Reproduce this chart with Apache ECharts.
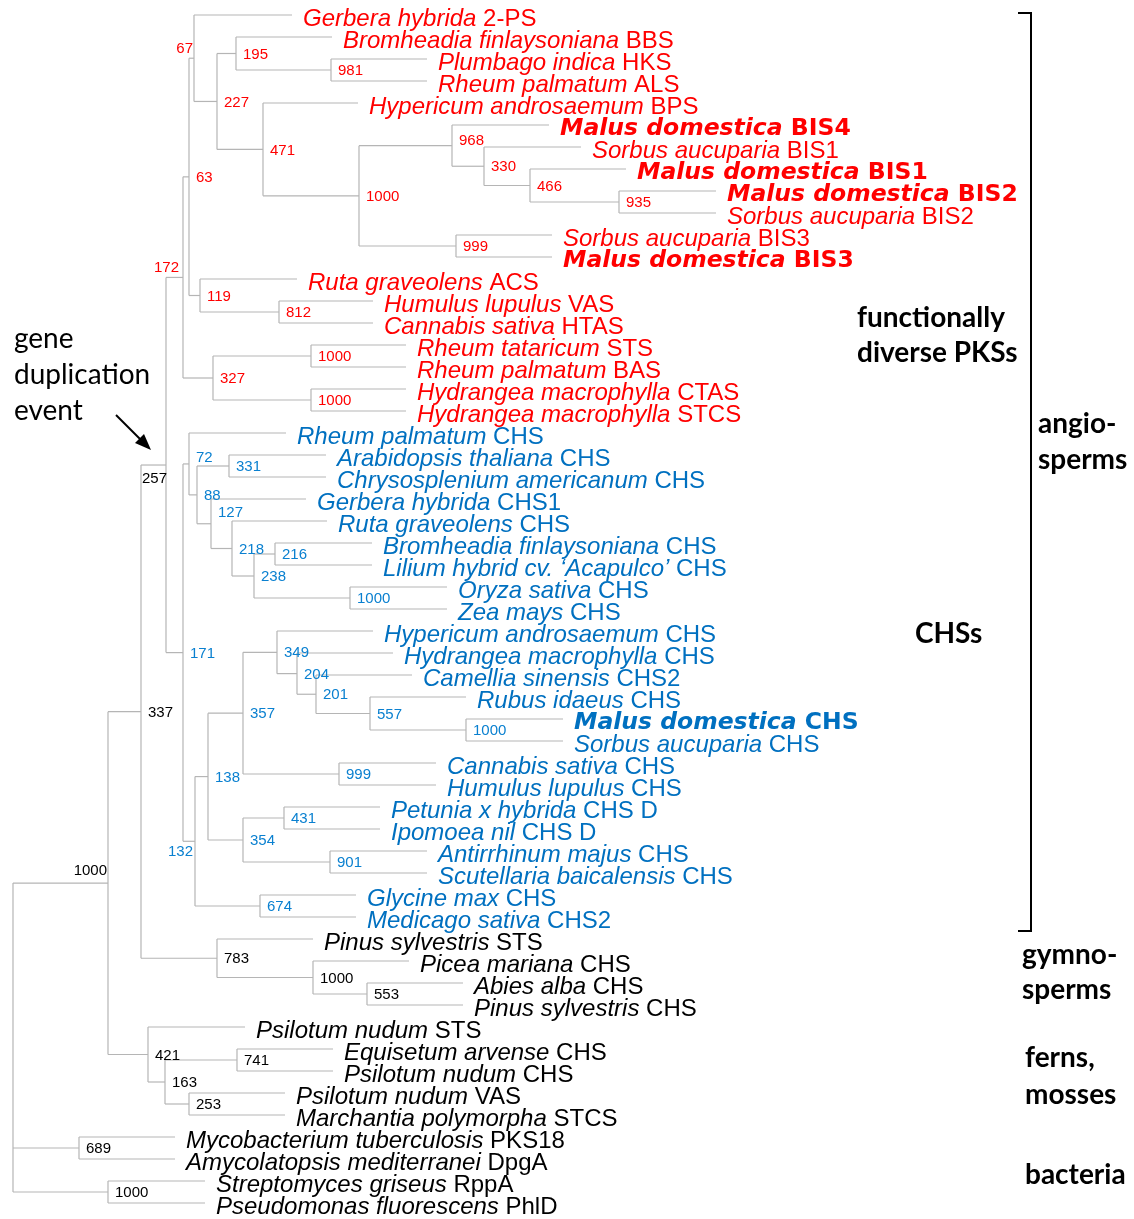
<!DOCTYPE html>
<html><head><meta charset="utf-8">
<script src="https://cdn.jsdelivr.net/npm/echarts@6.0.0/dist/echarts.min.js"></script>
<style>html,body{margin:0;padding:0;background:#fff}#c{width:1134px;height:1219px}</style>
</head><body><div id="c"></div>
<script>
// ---- leaves (top to bottom) ----
const leafSpecies = ["Gerbera hybrida","Bromheadia finlaysoniana","Plumbago indica","Rheum palmatum","Hypericum androsaemum","Malus domestica","Sorbus aucuparia","Malus domestica","Malus domestica","Sorbus aucuparia","Sorbus aucuparia","Malus domestica","Ruta graveolens","Humulus lupulus","Cannabis sativa","Rheum tataricum","Rheum palmatum","Hydrangea macrophylla","Hydrangea macrophylla",
"Rheum palmatum","Arabidopsis thaliana","Chrysosplenium americanum","Gerbera hybrida","Ruta graveolens","Bromheadia finlaysoniana","Lilium hybrid cv. \u2018Acapulco\u2019","Oryza sativa","Zea mays","Hypericum androsaemum","Hydrangea macrophylla","Camellia sinensis","Rubus idaeus","Malus domestica","Sorbus aucuparia","Cannabis sativa","Humulus lupulus","Petunia x hybrida","Ipomoea nil","Antirrhinum majus","Scutellaria baicalensis","Glycine max","Medicago sativa",
"Pinus sylvestris","Picea mariana","Abies alba","Pinus sylvestris","Psilotum nudum","Equisetum arvense","Psilotum nudum","Psilotum nudum","Marchantia polymorpha","Mycobacterium tuberculosis","Amycolatopsis mediterranei","Streptomyces griseus","Pseudomonas fluorescens"];
const leafGene = ["2-PS","BBS","HKS","ALS","BPS","BIS4","BIS1","BIS1","BIS2","BIS2","BIS3","BIS3","ACS","VAS","HTAS","STS","BAS","CTAS","STCS",
"CHS","CHS","CHS","CHS1","CHS","CHS","CHS","CHS","CHS","CHS","CHS","CHS2","CHS","CHS","CHS","CHS","CHS","CHS D","CHS D","CHS","CHS","CHS","CHS2",
"STS","CHS","CHS","CHS","STS","CHS","CHS","VAS","STCS","PKS18","DpgA","RppA","PhlD"];
const leafGroup = ["r","r","r","r","r","r","r","r","r","r","r","r","r","r","r","r","r","r","r",
"b","b","b","b","b","b","b","b","b","b","b","b","b","b","b","b","b","b","b","b","b","b","b",
"k","k","k","k","k","k","k","k","k","k","k","k","k"];
const leafBold = [6, 8, 9, 12, 33];
const leafParent = ["N67","N195","N981","N981","N471","N968","N330","N466","N935","N935","N999a","N999a","N119","N812","N812","N1000b","N1000b","N1000c","N1000c",
"N72","N331","N331","N127","N218","N216","N216","N1000d","N1000d","N349","N204","N201","N557","N1000e","N1000e","N999b","N999b","N431","N431","N901","N901","N674","N674",
"N783","N1000f","N553","N553","F421","N741","N741","N253","N253","B689","B689","B1000","B1000"];
const leafTip = [279,319,414,414,345,536,568,613,703,703,539,539,284,360,360,393,393,393,393,
273,313,313,293,314,359,359,434,434,360,380,399,453,550,550,423,423,367,367,414,414,343,343,
300,396,450,450,232,320,320,272,272,162,162,192,192];

// ---- internal nodes ----
const nodeIds    = ["R","A","G337","N257","N172","N63","N67","N227","N195","N981","N471","N1000a","N968","N330","N466","N935","N999a","N119","N812","N327","N1000b","N1000c",
"N171","N72","N88","N331","N127","N218","N238","N216","N1000d","N132","N138","N357","N349","N204","N201","N557","N1000e","N999b","N354","N431","N901","N674",
"N783","N1000f","N553","F421","N163","N741","N253","B689","B1000"];
const nodeParent = [null,"R","A","G337","N257","N172","N63","N67","N227","N195","N227","N471","N1000a","N968","N330","N466","N1000a","N63","N119","N172","N327","N327",
"N257","N171","N72","N88","N88","N127","N218","N238","N238","N171","N132","N138","N357","N349","N204","N201","N557","N357","N138","N354","N354","N132",
"G337","N783","N1000f","A","F421","N163","N163","R","R"];
const nodeDepth  = [0,95,128,153,170,176,181,204,223,318,250,346,439,471,517,606,443,187,266,200,298,298,
170,176,184,216,198,219,241,262,337,182,195,230,264,284,303,357,453,326,230,271,317,247,
204,300,354,135,152,224,176,66,95];
const nodeBoot   = [null,1000,337,257,172,63,67,227,195,981,471,1000,968,330,466,935,999,119,812,327,1000,1000,
171,72,88,331,127,218,238,216,1000,132,138,357,349,204,201,557,1000,999,354,431,901,674,
783,1000,553,421,163,741,253,689,1000];
const nodeGroup  = ["k","k","k","k","r","r","r","r","r","r","r","r","r","r","r","r","r","r","r","r","r","r",
"b","b","b","b","b","b","b","b","b","b","b","b","b","b","b","b","b","b","b","b","b","b",
"k","k","k","k","k","k","k","k","k"];
// label placement style: [side, dy, distance]
const nodeLabelPlace = {A:["l",-12,1], N257:["l",14,-1], N172:["l",-10,4], N67:["l",-9,1], N132:["l",11,2], N968:["r",-5,7], N72:["r",-6,7], N127:["r",-11,7]};

// ---- annotations ----
const sideLabels = [
  {t:"functionally", x:857, y:318}, {t:"diverse PKSs", x:857, y:353}, {t:"CHSs", x:915, y:634},
  {t:"angio-", x:1038, y:424}, {t:"sperms", x:1038, y:460},
  {t:"gymno-", x:1022, y:955}, {t:"sperms", x:1022, y:990},
  {t:"ferns,", x:1025, y:1058}, {t:"mosses", x:1025, y:1095},
  {t:"bacteria", x:1025, y:1175}
];
const geneDupLines = ["gene", "duplication", "event"];

// ---------- build tree geometry ----------
const colors = {r:"#ff0000", b:"#0070c0", k:"#000000"};
const bootColors = {r:"#ff0000", b:"#0a80d0", k:"#000000"};
const idx = {}; nodeIds.forEach((id,i)=>idx[id]=i);
const children = nodeIds.map(()=>[]);
leafParent.forEach((p,i)=>children[idx[p]].push({leaf:true, i:i}));
nodeParent.forEach((p,i)=>{ if(p) children[idx[p]].push({leaf:false, i:i}); });
const nodeY = new Array(nodeIds.length);
function calcY(n){
  const ys = children[n].map(c=> c.leaf ? c.i+1 : calcY(c.i));
  nodeY[n] = (Math.min(...ys)+Math.max(...ys))/2;
  return nodeY[n];
}
calcY(0);
const segs = [];
leafParent.forEach((p,i)=>segs.push([nodeDepth[idx[p]], i+1, leafTip[i], i+1]));
nodeIds.forEach((id,n)=>{
  const ys = children[n].map(c=> c.leaf ? c.i+1 : nodeY[c.i]);
  segs.push([nodeDepth[n], Math.min(...ys), nodeDepth[n], Math.max(...ys)]);
  if (nodeParent[n]) segs.push([nodeDepth[idx[nodeParent[n]]], nodeY[n], nodeDepth[n], nodeY[n]]);
});

const LF = "'Liberation Sans', Arial, sans-serif";
const BF = "'DejaVu Sans', sans-serif";
const rich = {};
for (const g of ["r","b","k"]) {
  rich["s"+g] = {fontFamily:LF, fontSize:24, fontStyle:"italic", color:colors[g], opacity:1};
  rich["g"+g] = {fontFamily:LF, fontSize:24, color:colors[g], opacity:1};
  rich["S"+g] = {fontFamily:BF, fontSize:23.5, fontStyle:"italic", fontWeight:"bold", color:colors[g], opacity:1};
  rich["G"+g] = {fontFamily:BF, fontSize:23.5, fontWeight:"bold", color:colors[g], opacity:1};
}
const leafData = leafSpecies.map((s,i)=>{
  const g = leafGroup[i], b = leafBold.includes(i+1);
  const f = b ? "{S"+g+"|"+s+"}{G"+g+"| "+leafGene[i]+"}" : "{s"+g+"|"+s+"}{g"+g+"| "+leafGene[i]+"}";
  return {value:[leafTip[i], i+1], label:{formatter:f}};
});
const bootData = [];
nodeIds.forEach((id,n)=>{
  if (nodeBoot[n]==null) return;
  const pl = nodeLabelPlace[id] || ["r",1,7];
  bootData.push({value:[nodeDepth[n], nodeY[n]], label:{
    formatter:String(nodeBoot[n]), color:bootColors[nodeGroup[n]],
    position: pl[0]==="l" ? "left" : "right", distance: pl[2], offset:[0, pl[1]]
  }});
});

const graphics = [];
sideLabels.forEach(s=>graphics.push({type:"text", x:s.x, y:s.y, silent:true,
  style:{text:s.t, fill:"#000", font:"bold 28px Lato, sans-serif", textAlign:"left", textVerticalAlign:"middle"}}));
geneDupLines.forEach((t,i)=>graphics.push({type:"text", x:14, y:339+i*36, silent:true,
  style:{text:t, fill:"#000", font:"28px Lato, sans-serif", textAlign:"left", textVerticalAlign:"middle"}}));
graphics.push({type:"polyline", silent:true, shape:{points:[[116,415],[142,441]]}, style:{stroke:"#000", lineWidth:2, fill:null}});
graphics.push({type:"polygon", silent:true, shape:{points:[[151,450],[135,443],[144,434]]}, style:{fill:"#000"}});
graphics.push({type:"polyline", silent:true, shape:{points:[[1018,13],[1031,13],[1031,931],[1018,931]]}, style:{stroke:"#000", lineWidth:2, fill:null}});

const chart = echarts.init(document.getElementById("c"), null, {renderer:"canvas"});
chart.setOption({
  animation:false,
  backgroundColor:"#fff",
  grid:{left:0, right:0, top:15, bottom:16, containLabel:false},
  xAxis:{type:"value", min:-13, max:1121, show:false},
  yAxis:{type:"value", min:1, max:55, inverse:true, show:false},
  graphic:graphics,
  series:[
    {type:"custom", silent:true, data:segs, encode:{x:[0,2], y:[1,3]},
      renderItem:function(params, api){
        const p1 = api.coord([api.value(0), api.value(1)]);
        const p2 = api.coord([api.value(2), api.value(3)]);
        return {type:"line", shape:{x1:p1[0], y1:p1[1], x2:p2[0], y2:p2[1]}, style:{stroke:"#b5b5b5", lineWidth:1.2}};
      }},
    {type:"scatter", silent:true, symbolSize:0, data:leafData, itemStyle:{opacity:1},
      label:{show:true, opacity:1, position:"right", distance:11, offset:[0,4], fontFamily:LF, fontSize:24, rich:rich}},
    {type:"scatter", silent:true, symbolSize:0, data:bootData, itemStyle:{opacity:1},
      label:{show:true, opacity:1, fontFamily:LF, fontSize:15}}
  ]
});
</script></body></html>
